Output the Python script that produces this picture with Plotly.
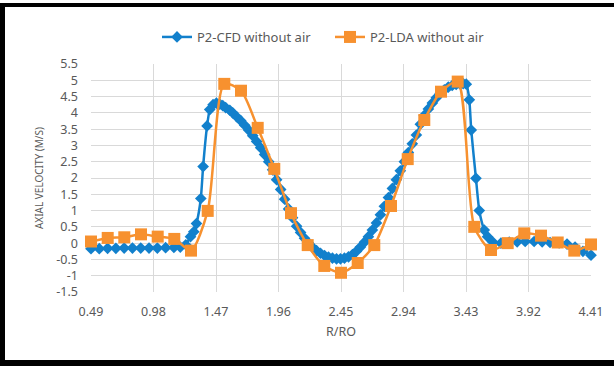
import plotly.graph_objects as go

# CFD prediction (radial position r/ro, axial velocity m/s)
cfd_r = [0.49, 0.555, 0.62, 0.685, 0.75, 0.815, 0.88, 0.945, 1.01, 1.075, 1.14, 1.19,
         1.233, 1.270, 1.296, 1.317, 1.351, 1.369, 1.400, 1.421, 1.447, 1.473,
         1.499, 1.523, 1.546, 1.578, 1.601, 1.632, 1.664, 1.695, 1.726, 1.758,
         1.789, 1.820, 1.851, 1.883, 1.914, 1.945, 1.977, 2.008, 2.039, 2.070,
         2.102, 2.133, 2.164, 2.196, 2.227, 2.258, 2.289, 2.321, 2.352, 2.383,
         2.415, 2.446, 2.477, 2.509, 2.540, 2.571, 2.602, 2.634, 2.665, 2.696,
         2.728, 2.759, 2.790, 2.822, 2.853, 2.884, 2.915, 2.947, 2.978, 3.009,
         3.041, 3.072, 3.103, 3.135, 3.166, 3.197, 3.228, 3.260, 3.291, 3.322,
         3.353, 3.385, 3.408, 3.432, 3.456, 3.471, 3.508, 3.534, 3.573, 3.599,
         3.638, 3.704, 3.769, 3.831, 3.894, 3.964, 4.027, 4.089, 4.160, 4.222,
         4.285, 4.347, 4.41]
cfd_v = [-0.17, -0.17, -0.16, -0.16, -0.15, -0.15, -0.15, -0.15, -0.15, -0.14, -0.13, -0.12,
         -0.05, 0.20, 0.35, 0.60, 1.37, 2.35, 3.60, 4.10, 4.25, 4.30,
         4.27, 4.22, 4.16, 4.08, 4.00, 3.88, 3.76, 3.62, 3.47, 3.30,
         3.12, 2.93, 2.72, 2.50, 2.25, 1.95, 1.65, 1.35, 1.05, 0.78,
         0.52, 0.33, 0.15, 0.00, -0.13, -0.23, -0.31, -0.38, -0.43, -0.46,
         -0.48, -0.48, -0.46, -0.42, -0.35, -0.25, -0.12, 0.03, 0.20, 0.40,
         0.62, 0.87, 1.13, 1.40, 1.68, 1.95, 2.22, 2.50, 2.78, 3.05,
         3.32, 3.65, 3.92, 4.12, 4.30, 4.46, 4.60, 4.71, 4.79, 4.84,
         4.87, 4.88, 4.90, 4.88, 4.40, 3.47, 1.99, 1.00, 0.40, 0.20,
         0.04, 0.00, 0.03, 0.04, 0.05, 0.05, 0.04, 0.02, 0.01, -0.03,
         -0.12, -0.25, -0.37]

# LDA measurements
lda_r = [0.49, 0.621, 0.751, 0.882, 1.013, 1.143, 1.274, 1.405, 1.535, 1.666,
         1.797, 1.927, 2.058, 2.189, 2.319, 2.45, 2.581, 2.711, 2.842, 2.973,
         3.103, 3.234, 3.365, 3.495, 3.626, 3.757, 3.887, 4.018, 4.149, 4.279, 4.41]
lda_v = [0.05, 0.16, 0.18, 0.27, 0.20, 0.13, -0.23, 0.99, 4.89, 4.68,
         3.54, 2.28, 0.92, -0.06, -0.70, -0.91, -0.61, -0.06, 1.14, 2.58,
         3.78, 4.65, 4.96, 0.50, -0.21, 0.00, 0.30, 0.23, 0.02, -0.23, -0.04]

x_ticks = [0.49, 0.98, 1.47, 1.96, 2.45, 2.94, 3.43, 3.92, 4.41]
x_tick_text = ["0.49", "0.98", "1.47", "1.96", "2.45", "2.94", "3.43", "3.92", "4.41"]
y_ticks = [-1.5, -1, -0.5, 0, 0.5, 1, 1.5, 2, 2.5, 3, 3.5, 4, 4.5, 5, 5.5]
y_tick_text = ["-1.5", "-1", "-0.5", "0", "0.5", "1", "1.5", "2", "2.5", "3",
               "3.5", "4", "4.5", "5", "5.5"]

BLUE = "#1280CC"
ORANGE = "#F7912F"
TEXT = "#595959"
GRID = "#D9D9D9"
FONT = "Noto Sans"

fig = go.Figure()
fig.add_trace(go.Scatter(
    x=cfd_r, y=cfd_v, name="P2-CFD without air", mode="lines+markers",
    line=dict(color=BLUE, width=2.5, shape="spline", smoothing=0.5),
    marker=dict(symbol="diamond", size=9, color=BLUE),
    cliponaxis=False,
))
fig.add_trace(go.Scatter(
    x=lda_r, y=lda_v, name="P2-LDA without air", mode="lines+markers",
    line=dict(color=ORANGE, width=2.5, shape="spline", smoothing=0.7),
    marker=dict(symbol="square", size=12, color=ORANGE),
    cliponaxis=False,
))

# plot area: 91..591 px horizontally, 64..292 px vertically
L, R, T, B = 91, 23, 64, 74
W, H = 614, 366
pw, ph = W - L - R, H - T - B


def px_x(px):
    return (px - L) / pw


def px_y(py):
    return (H - B - py) / ph


frame = dict(color="black")
shapes = [
    dict(type="line", xref="paper", yref="paper", x0=px_x(2.5), x1=px_x(2.5),
         y0=px_y(3), y1=px_y(366), line=dict(frame, width=5)),
    dict(type="line", xref="paper", yref="paper", x0=px_x(0), x1=px_x(614),
         y0=px_y(5), y1=px_y(5), line=dict(frame, width=4)),
    dict(type="line", xref="paper", yref="paper", x0=px_x(0), x1=px_x(614),
         y0=px_y(363), y1=px_y(363), line=dict(frame, width=6)),
]

fig.update_layout(
    width=W, height=H,
    margin=dict(l=L, r=R, t=T, b=B, pad=0),
    paper_bgcolor="white", plot_bgcolor="white",
    font=dict(family=FONT, size=12, color=TEXT),
    showlegend=True,
    legend=dict(orientation="h", x=px_x(330), xanchor="center",
                y=px_y(37), yanchor="middle", font=dict(size=13, color=TEXT),
                itemwidth=30, entrywidth=128, entrywidthmode="pixels",
                bgcolor="rgba(0,0,0,0)"),
    shapes=shapes,
    xaxis=dict(range=[0.49, 4.41], tickvals=x_ticks, ticktext=x_tick_text,
               showgrid=True, gridcolor=GRID, gridwidth=1, zeroline=False,
               showline=False, ticks="", ticklabelstandoff=10,
               tickfont=dict(size=12.5),
               title=dict(text="R/RO", standoff=8, font=dict(size=12.5, color=TEXT))),
    yaxis=dict(range=[-1.5, 5.5], tickvals=y_ticks, ticktext=y_tick_text,
               showgrid=True, gridcolor=GRID, gridwidth=1, zeroline=False,
               showline=False, ticks="", ticklabelstandoff=12,
               tickfont=dict(size=12.5),
               title=dict(text="AXIAL VELOCITY (M/S)", standoff=10,
                          font=dict(size=10, color=TEXT))),
)

fig.write_html("out.html")
